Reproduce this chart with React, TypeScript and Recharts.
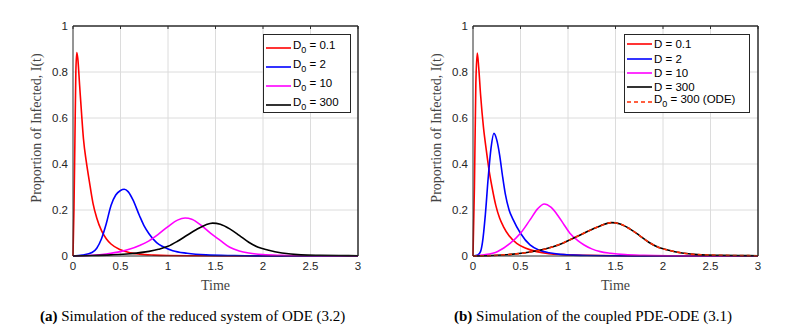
import React from "react";
import { LineChart, Line, XAxis, YAxis, ReferenceLine } from "recharts";

const xTicks = [0, 0.5, 1, 1.5, 2, 2.5, 3];
const yTicks = [0, 0.2, 0.4, 0.6, 0.8, 1];

// (a) reduced ODE system
const tRedA = [0, 0.01, 0.02, 0.03, 0.04, 0.05, 0.07, 0.09, 0.11, 0.14, 0.17, 0.21, 0.25, 0.3, 0.35, 0.4, 0.5, 0.6, 0.7, 0.85, 1.0, 1.3, 2.0, 3.0];
const iRedA = [0, 0.2, 0.5, 0.8, 0.885, 0.86, 0.74, 0.62, 0.51, 0.41, 0.33, 0.23, 0.165, 0.11, 0.075, 0.052, 0.027, 0.014, 0.008, 0.004, 0.002, 0.001, 0, 0];
const tBlueA = [0, 0.1, 0.2, 0.25, 0.3, 0.35, 0.4, 0.45, 0.5, 0.54, 0.58, 0.63, 0.7, 0.75, 0.8, 0.88, 0.95, 1.05, 1.2, 1.4, 1.7, 2.2, 3];
const iBlueA = [0, 0.004, 0.015, 0.034, 0.075, 0.14, 0.22, 0.265, 0.285, 0.29, 0.28, 0.245, 0.175, 0.13, 0.097, 0.058, 0.04, 0.023, 0.012, 0.005, 0.002, 0, 0];
const tMagA = [0, 0.2, 0.35, 0.5, 0.6, 0.7, 0.8, 0.9, 1.0, 1.1, 1.18, 1.25, 1.35, 1.45, 1.55, 1.65, 1.75, 1.85, 2.0, 2.2, 2.5, 3];
const iMagA = [0, 0.003, 0.009, 0.019, 0.03, 0.046, 0.066, 0.095, 0.128, 0.156, 0.165, 0.16, 0.133, 0.098, 0.068, 0.038, 0.022, 0.013, 0.006, 0.003, 0.001, 0];
const tBlackA = [0, 0.2, 0.4, 0.6, 0.8, 0.9, 1.0, 1.1, 1.2, 1.3, 1.4, 1.47, 1.55, 1.65, 1.75, 1.85, 1.95, 2.05, 2.2, 2.4, 2.6, 2.8, 3];
const iBlackA = [0, 0.002, 0.005, 0.01, 0.02, 0.029, 0.042, 0.064, 0.09, 0.115, 0.136, 0.143, 0.138, 0.118, 0.09, 0.06, 0.038, 0.026, 0.013, 0.005, 0.003, 0.002, 0.001];

// (b) coupled PDE-ODE
const tRedB = [0, 0.015, 0.03, 0.045, 0.06, 0.08, 0.11, 0.14, 0.17, 0.2, 0.24, 0.28, 0.32, 0.38, 0.46, 0.55, 0.67, 0.8, 0.95, 1.2, 1.6, 2.2, 3];
const iRedB = [0, 0.3, 0.75, 0.882, 0.82, 0.7, 0.56, 0.46, 0.37, 0.3, 0.22, 0.165, 0.128, 0.088, 0.055, 0.035, 0.019, 0.01, 0.006, 0.003, 0.001, 0, 0];
const tBlueB = [0, 0.05, 0.08, 0.1, 0.13, 0.16, 0.19, 0.22, 0.25, 0.28, 0.31, 0.34, 0.38, 0.42, 0.5, 0.6, 0.7, 0.8, 0.92, 1.05, 1.2, 1.5, 2, 3];
const iBlueB = [0, 0.004, 0.02, 0.06, 0.18, 0.34, 0.47, 0.533, 0.505, 0.44, 0.35, 0.27, 0.2, 0.16, 0.099, 0.048, 0.025, 0.014, 0.007, 0.004, 0.002, 0.001, 0, 0];
const tMagB = [0, 0.12, 0.26, 0.39, 0.5, 0.6, 0.68, 0.75, 0.82, 0.9, 0.96, 1.02, 1.1, 1.17, 1.25, 1.34, 1.45, 1.6, 1.8, 2.1, 2.5, 3];
const iMagB = [0, 0.005, 0.02, 0.055, 0.099, 0.157, 0.205, 0.226, 0.212, 0.172, 0.135, 0.099, 0.068, 0.048, 0.031, 0.019, 0.012, 0.006, 0.003, 0.001, 0, 0];
const tBlackB = [0, 0.2, 0.4, 0.55, 0.7, 0.85, 0.95, 1.05, 1.15, 1.25, 1.35, 1.46, 1.55, 1.65, 1.75, 1.85, 1.95, 2.05, 2.2, 2.4, 2.6, 2.8, 3];
const iBlackB = [0, 0.002, 0.007, 0.014, 0.025, 0.041, 0.057, 0.076, 0.096, 0.115, 0.133, 0.145, 0.139, 0.118, 0.09, 0.06, 0.038, 0.026, 0.013, 0.005, 0.003, 0.002, 0.001];
const tOdeB = [0, 0.2, 0.4, 0.55, 0.7, 0.85, 0.95, 1.05, 1.15, 1.25, 1.35, 1.46, 1.55, 1.65, 1.75, 1.85, 1.95, 2.05, 2.2, 2.4, 2.6, 2.8, 3];
const iOdeB = [0, 0.002, 0.007, 0.014, 0.025, 0.041, 0.057, 0.076, 0.096, 0.115, 0.133, 0.145, 0.139, 0.118, 0.09, 0.06, 0.038, 0.026, 0.013, 0.005, 0.003, 0.002, 0.001];

const labelsA = ["0.1", "2", "10", "300"];
const labelsB = ["0.1", "2", "10", "300", "300 (ODE)"];

type Series = {
  key: string;
  t: number[];
  i: number[];
  color: string;
  label: string;
  sub: boolean;
  dashed?: boolean;
};

const seriesA: Series[] = [
  { key: "r", t: tRedA, i: iRedA, color: "#ff0000", label: labelsA[0], sub: true },
  { key: "b", t: tBlueA, i: iBlueA, color: "#0000ff", label: labelsA[1], sub: true },
  { key: "m", t: tMagA, i: iMagA, color: "#ff00ff", label: labelsA[2], sub: true },
  { key: "k", t: tBlackA, i: iBlackA, color: "#000000", label: labelsA[3], sub: true },
];

const seriesB: Series[] = [
  { key: "r", t: tRedB, i: iRedB, color: "#ff0000", label: labelsB[0], sub: false },
  { key: "b", t: tBlueB, i: iBlueB, color: "#0000ff", label: labelsB[1], sub: false },
  { key: "m", t: tMagB, i: iMagB, color: "#ff00ff", label: labelsB[2], sub: false },
  { key: "k", t: tBlackB, i: iBlackB, color: "#000000", label: labelsB[3], sub: false },
  { key: "o", t: tOdeB, i: iOdeB, color: "#ff2a00", label: labelsB[4], sub: true, dashed: true },
];

// one row per time value used by any series, null where a series has no sample
function buildTable(series: Series[]) {
  const rows = new Map<number, Record<string, number | null>>();
  series.forEach((s) =>
    s.t.forEach((x, k) => {
      if (!rows.has(x)) rows.set(x, { x });
      rows.get(x)![s.key] = s.i[k];
    })
  );
  return Array.from(rows.values())
    .sort((a, b) => (a.x as number) - (b.x as number))
    .map((r) => {
      series.forEach((s) => {
        if (!(s.key in r)) r[s.key] = null;
      });
      return r;
    });
}

const AXIS = "#2b2b2b";
const GRID = "#dcdcdc";
const SANS = "'Liberation Sans', Arial, sans-serif";
const SERIF = "'Liberation Serif', 'Times New Roman', serif";

const noTick = () => <g />;

function YLabel(props: any) {
  const vb = props.viewBox;
  const cx = vb.x + vb.width / 2;
  const cy = vb.y + vb.height / 2 - 13;
  return (
    <text
      x={cx}
      y={cy}
      transform={`rotate(-90 ${cx} ${cy})`}
      textAnchor="middle"
      dominantBaseline="central"
      fontFamily={SERIF}
      fontSize={14}
      fill="#444"
    >
      Proportion of Infected, I(t)
    </text>
  );
}

function XLabel(props: any) {
  const vb = props.viewBox;
  return (
    <text
      x={vb.x + vb.width / 2}
      y={vb.y + 29}
      textAnchor="middle"
      dominantBaseline="central"
      fontFamily={SERIF}
      fontSize={14}
      fill="#444"
    >
      Time
    </text>
  );
}

function LegendBox({ series, rowH, width, left }: { series: Series[]; rowH: number; width: number; left: number }) {
  return (
    <div
      style={{
        position: "absolute",
        top: 34,
        left,
        width,
        height: 79,
        border: "1px solid #262626",
        background: "#fff",
        boxSizing: "border-box",
        paddingTop: series.length > 4 ? 2 : 3,
        fontFamily: SANS,
        fontSize: 11.5,
        color: "#000",
      }}
    >
      {series.map((s) => (
        <div key={s.key} style={{ display: "flex", alignItems: "center", height: rowH }}>
          <svg width={29} height={8} style={{ flex: "none" }}>
            <line
              x1={2}
              y1={4}
              x2={27}
              y2={4}
              stroke={s.color}
              strokeWidth={1.6}
              strokeDasharray={s.dashed ? "4 3" : undefined}
            />
          </svg>
          <span style={{ whiteSpace: "nowrap", lineHeight: "12px" }}>
            D
            {s.sub ? <sub style={{ fontSize: 9, verticalAlign: -4 }}>0</sub> : null} = {s.label}
          </span>
        </div>
      ))}
    </div>
  );
}

function Panel({ series, left, caption, tag, rowH, legendW, legendLeft, captionLeft }: {
  series: Series[];
  left: number;
  caption: string;
  tag: string;
  rowH: number;
  legendW: number;
  legendLeft: number;
  captionLeft: number;
}) {
  const table = buildTable(series);
  return (
    <div style={{ position: "absolute", left, top: 0, width: 400, height: 334 }}>
      <LineChart
        width={400}
        height={300}
        data={table}
        margin={{ top: 26, right: 42, bottom: 14, left: 0 }}
      >
        <XAxis
          type="number"
          dataKey="x"
          domain={[0, 3]}
          ticks={xTicks}
          height={30}
          stroke={AXIS}
          tickLine={false}
          tickSize={1}
          tickMargin={5}
          tick={{ fill: "#262626", fontSize: 11.5, fontFamily: SANS }}
          label={<XLabel />}
        />
        <YAxis
          type="number"
          domain={[0, 1]}
          ticks={yTicks}
          width={73}
          stroke={AXIS}
          tickLine={false}
          tickSize={1}
          tickMargin={4}
          tick={{ fill: "#262626", fontSize: 11.5, fontFamily: SANS }}
          label={<YLabel />}
        />
        <XAxis
          xAxisId="top"
          orientation="top"
          type="number"
          dataKey="x"
          domain={[0, 3]}
          ticks={xTicks}
          height={1}
          mirror
          stroke={AXIS}
          tickSize={3}
          tick={noTick}
        />
        <YAxis
          yAxisId="right"
          orientation="right"
          type="number"
          domain={[0, 1]}
          ticks={yTicks}
          width={1}
          mirror
          stroke={AXIS}
          tickSize={3}
          tick={noTick}
        />
        {/* grid lines at the interior ticks */}
        {xTicks.slice(1, -1).map((v) => (
          <ReferenceLine key={`gx${v}`} x={v} stroke={GRID} strokeWidth={1} ifOverflow="visible" />
        ))}
        {yTicks.slice(1, -1).map((v) => (
          <ReferenceLine key={`gy${v}`} y={v} stroke={GRID} strokeWidth={1} ifOverflow="visible" />
        ))}
        <ReferenceLine y={1} stroke={AXIS} strokeWidth={1} ifOverflow="visible" />
        <ReferenceLine x={3} stroke={AXIS} strokeWidth={1} ifOverflow="visible" />
        {series.map((s) => (
          <Line
            key={s.key}
            dataKey={s.key}
            type="monotone"
            connectNulls
            stroke={s.color}
            strokeWidth={1.6}
            strokeDasharray={s.dashed ? "4 3" : undefined}
            dot={false}
            activeDot={false}
            isAnimationActive={false}
          />
        ))}
      </LineChart>
      <LegendBox series={series} rowH={rowH} width={legendW} left={legendLeft} />
      <div
        style={{
          position: "absolute",
          top: 308,
          left: captionLeft,
          whiteSpace: "nowrap",
          fontFamily: SERIF,
          fontSize: 15,
          color: "#000",
        }}
      >
        <b>({tag})</b> {caption}
      </div>
    </div>
  );
}

export default function App() {
  return (
    <div
      style={{
        position: "absolute",
        left: 0,
        top: 0,
        width: 795,
        height: 334,
        background: "#fff",
        overflow: "hidden",
      }}
    >
      <Panel
        series={seriesA}
        left={0}
        tag="a"
        caption="Simulation of the reduced system of ODE (3.2)"
        rowH={19}
        legendW={88}
        legendLeft={263}
        captionLeft={40}
      />
      <Panel
        series={seriesB}
        left={400}
        tag="b"
        caption="Simulation of the coupled PDE-ODE (3.1)"
        rowH={14.4}
        legendW={126}
        legendLeft={224}
        captionLeft={54}
      />
    </div>
  );
}
